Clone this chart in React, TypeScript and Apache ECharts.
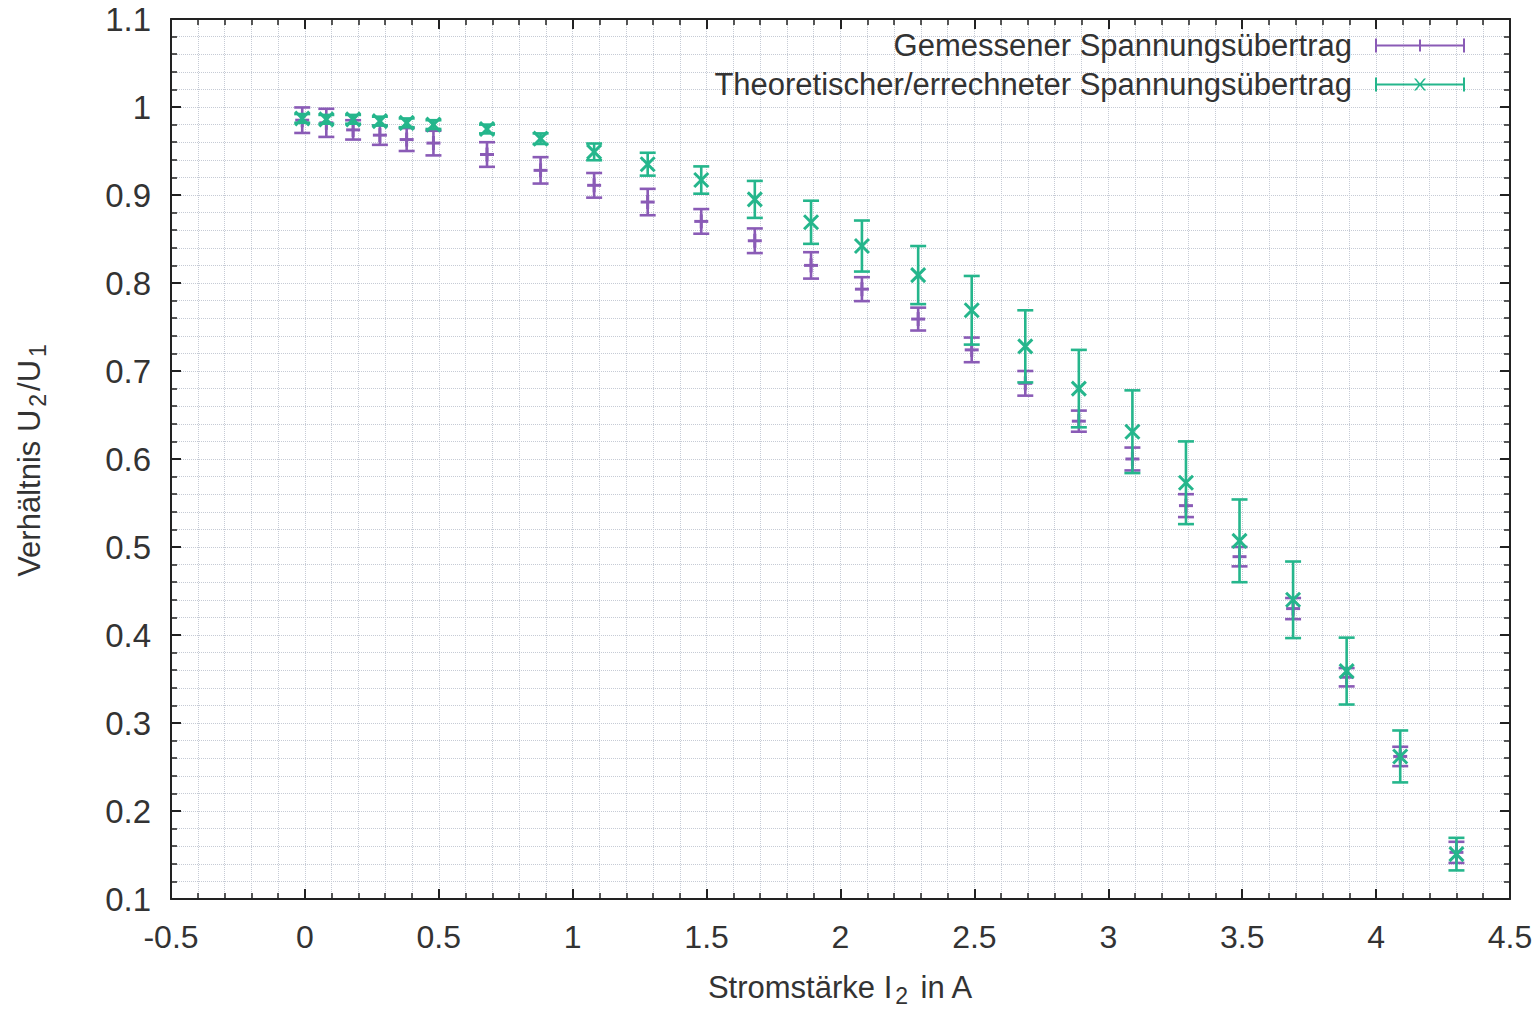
import React, { useEffect, useRef } from "react";
import * as echarts from "echarts";

// Stromstärke I2 in A
const currents = [-0.01, 0.08, 0.18, 0.28, 0.38, 0.48, 0.68, 0.88, 1.08, 1.28, 1.48, 1.68, 1.89, 2.08, 2.29, 2.49, 2.69, 2.89, 3.09, 3.29, 3.49, 3.69, 3.89, 4.09, 4.3];
// Gemessener Spannungsübertrag (U2/U1) and its error
const measured = [0.985, 0.982, 0.974, 0.968, 0.963, 0.959, 0.946, 0.928, 0.911, 0.892, 0.87, 0.848, 0.82, 0.793, 0.759, 0.724, 0.686, 0.643, 0.6, 0.547, 0.489, 0.43, 0.352, 0.262, 0.153];
const measuredErr = [0.0145, 0.016, 0.011, 0.011, 0.013, 0.014, 0.014, 0.015, 0.014, 0.015, 0.014, 0.014, 0.015, 0.0136, 0.013, 0.014, 0.014, 0.012, 0.013, 0.013, 0.011, 0.012, 0.0104, 0.011, 0.012];
// Theoretischer/errechneter Spannungsübertrag and its error
const theoretical = [0.987, 0.986, 0.986, 0.984, 0.982, 0.98, 0.975, 0.964, 0.949, 0.935, 0.917, 0.895, 0.869, 0.842, 0.809, 0.769, 0.728, 0.68, 0.631, 0.573, 0.507, 0.44, 0.359, 0.262, 0.151];
const theoreticalErr = [0.005, 0.005, 0.005, 0.005, 0.005, 0.005, 0.005, 0.006, 0.0095, 0.013, 0.0155, 0.021, 0.0245, 0.029, 0.033, 0.039, 0.041, 0.044, 0.047, 0.047, 0.047, 0.0435, 0.038, 0.0295, 0.0185];

const seriesNames = ["Gemessener Spannungsübertrag", "Theoretischer/errechneter Spannungsübertrag"];
const PURPLE = "#8a5bb6";
const GREEN = "#25b68c";
const FONT = "Liberation Sans, Arial, sans-serif";

const ICON_PLUS =
  "path://M0 0H2V14H0ZM88 0H90V14H88ZM0 6H90V8H0ZM44 1H46V13H44Z";
const ICON_CROSS =
  "path://M0 0H2V14H0ZM88 0H90V14H88ZM0 6H90V8H0ZM39 1L41 1L51 13L49 13ZM49 1L51 1L41 13L39 13Z";

function makeRenderer(color: string, marker: "plus" | "cross") {
  return (params: any, api: any) => {
    const x = api.value(0);
    const y = api.value(1);
    const e = api.value(2);
    const top = api.coord([x, y + e]);
    const bot = api.coord([x, y - e]);
    const c = api.coord([x, y]);
    const cap = 8;
    const m = 7;
    const style = { stroke: color, lineWidth: 2.6, fill: null };
    const children: any[] = [
      { type: "line", shape: { x1: top[0], y1: top[1], x2: bot[0], y2: bot[1] }, style },
      { type: "line", shape: { x1: top[0] - cap, y1: top[1], x2: top[0] + cap, y2: top[1] }, style },
      { type: "line", shape: { x1: bot[0] - cap, y1: bot[1], x2: bot[0] + cap, y2: bot[1] }, style },
    ];
    if (marker === "plus") {
      children.push({ type: "line", shape: { x1: c[0] - m, y1: c[1], x2: c[0] + m, y2: c[1] }, style: { ...style, lineWidth: 3 } });
      children.push({ type: "line", shape: { x1: c[0], y1: c[1] - m, x2: c[0], y2: c[1] + m }, style: { ...style, lineWidth: 3 } });
    } else {
      children.push({ type: "line", shape: { x1: c[0] - m, y1: c[1] - m, x2: c[0] + m, y2: c[1] + m }, style: { ...style, lineWidth: 3 } });
      children.push({ type: "line", shape: { x1: c[0] - m, y1: c[1] + m, x2: c[0] + m, y2: c[1] - m }, style: { ...style, lineWidth: 3 } });
    }
    return { type: "group", children };
  };
}

const gridLine = { show: true, lineStyle: { color: "#c6cbd5", type: "dotted", width: 1 } };
const axisLineStyle = { color: "#222", width: 2 };

export default function App() {
  const ref = useRef<HTMLDivElement>(null);
  useEffect(() => {
    if (!ref.current) return;
    const chart = echarts.init(ref.current, null, { renderer: "svg" });
    const measuredData = currents.map((x, i) => [x, measured[i], measuredErr[i]]);
    const theoreticalData = currents.map((x, i) => [x, theoretical[i], theoreticalErr[i]]);
    const xBase = {
      type: "value",
      min: -0.5,
      max: 4.5,
      interval: 0.5,
      axisLine: { show: true, onZero: false, lineStyle: axisLineStyle },
      axisTick: { show: true, inside: true, length: 10, lineStyle: { color: "#222", width: 2 } },
      minorTick: { show: true, splitNumber: 5, length: 6, lineStyle: { color: "#222", width: 1.5 } },
    };
    const yBase = {
      type: "value",
      min: 0.1,
      max: 1.1,
      interval: 0.1,
      axisLine: { show: true, onZero: false, lineStyle: axisLineStyle },
      axisTick: { show: true, inside: true, length: 10, lineStyle: { color: "#222", width: 2 } },
      minorTick: { show: true, splitNumber: 5, length: 6, lineStyle: { color: "#222", width: 1.5 } },
    };
    const nameStyle = {
      fontSize: 31,
      color: "#333",
      fontFamily: FONT,
      rich: {
        sub: { fontSize: 23, color: "#333", fontFamily: FONT, padding: [15, 3, 0, 3], verticalAlign: "top", lineHeight: 30 },
      },
      lineHeight: 36,
      verticalAlign: "top",
    };
    chart.setOption({
      animation: false,
      backgroundColor: "#ffffff",
      textStyle: { fontFamily: FONT },
      grid: { left: 171, right: 29, top: 19, bottom: 111, containLabel: false },
      legend: {
        orient: "vertical",
        align: "right",
        right: 69,
        top: 25,
        itemWidth: 90,
        itemHeight: 14,
        itemGap: 8,
        selectedMode: false,
        textStyle: { fontSize: 31, color: "#333", fontFamily: FONT, lineHeight: 30, padding: [0, 18, 0, 0] },
        data: [
          { name: seriesNames[0], icon: ICON_PLUS },
          { name: seriesNames[1], icon: ICON_CROSS },
        ],
      },
      xAxis: [
        {
          ...xBase,
          position: "bottom",
          axisLabel: { fontSize: 32, color: "#333", margin: 22, fontFamily: FONT },
          splitLine: gridLine,
          minorSplitLine: gridLine,
          name: "Stromstärke I{sub|2} in A",
          nameLocation: "middle",
          nameGap: 70,
          nameTextStyle: nameStyle,
        },
        {
          ...xBase,
          position: "top",
          axisLabel: { show: false },
          splitLine: { show: false },
        },
      ],
      yAxis: [
        {
          ...yBase,
          position: "left",
          axisLabel: { fontSize: 33, color: "#333", margin: 20, fontFamily: FONT },
          splitLine: gridLine,
          minorSplitLine: gridLine,
          name: "Verhältnis U{sub|2}/U{sub|1}",
          nameLocation: "middle",
          nameGap: 160,
          nameTextStyle: nameStyle,
        },
        {
          ...yBase,
          position: "right",
          axisLabel: { show: false },
          splitLine: { show: false },
        },
      ],
      series: [
        {
          name: seriesNames[0],
          type: "custom",
          xAxisIndex: 0,
          yAxisIndex: 0,
          itemStyle: { color: PURPLE },
          renderItem: makeRenderer(PURPLE, "plus"),
          encode: { x: 0, y: 1 },
          data: measuredData,
          z: 3,
        },
        {
          name: seriesNames[1],
          type: "custom",
          xAxisIndex: 0,
          yAxisIndex: 0,
          itemStyle: { color: GREEN },
          renderItem: makeRenderer(GREEN, "cross"),
          encode: { x: 0, y: 1 },
          data: theoreticalData,
          z: 4,
        },
      ],
    } as any);
    return () => chart.dispose();
  }, []);
  return (
    <div
      ref={ref}
      style={{ position: "absolute", left: 0, top: 0, width: 1539, height: 1012 }}
    />
  );
}
